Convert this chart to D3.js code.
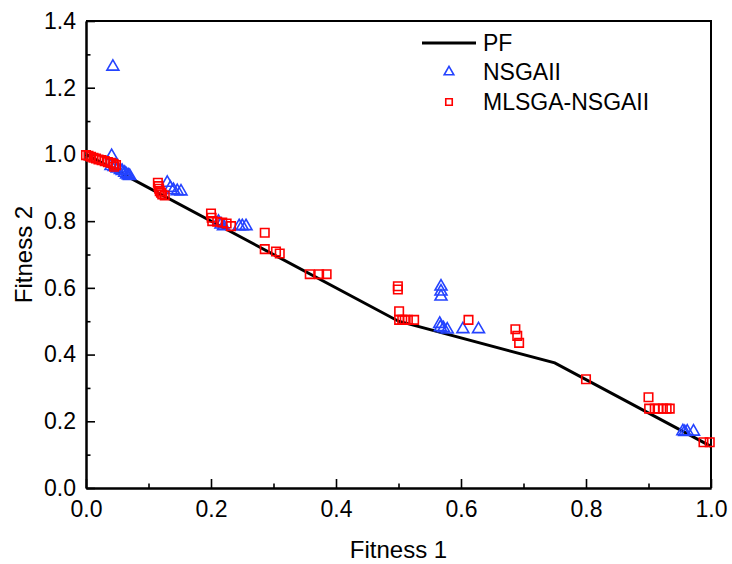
<!DOCTYPE html>
<html>
<head>
<meta charset="utf-8">
<script src="https://cdn.jsdelivr.net/npm/d3@7/dist/d3.min.js"></script>
<style>
  html, body { margin: 0; padding: 0; background: #fff; }
  svg { display: block; }
  text { font-family: "Liberation Sans", Arial, sans-serif; fill: #000; }
</style>
</head>
<body>
<svg id="chart" width="732" height="564"></svg>
<script>
// Pareto front (piecewise linear)
const pfF1 = [0.0, 0.5, 0.75, 1.0];
const pfF2 = [1.0, 0.5, 0.375, 0.125];

// NSGAII solutions
const nsgaF1 = [0.043, 0.041, 0.040, 0.045, 0.050, 0.055, 0.058, 0.062, 0.065, 0.068, 0.070,
                0.130, 0.135, 0.140, 0.146, 0.152,
                0.212, 0.216, 0.220, 0.245, 0.250, 0.256,
                0.568, 0.568, 0.568, 0.566, 0.567, 0.572, 0.578, 0.603, 0.628,
                0.955, 0.958, 0.962, 0.972];
const nsgaF2 = [1.263, 0.995, 0.965, 0.962, 0.958, 0.953, 0.950, 0.945, 0.940, 0.937, 0.935,
                0.915, 0.900, 0.893, 0.890, 0.889,
                0.798, 0.790, 0.785, 0.785, 0.785, 0.785,
                0.604, 0.589, 0.574, 0.492, 0.482, 0.479, 0.475, 0.476, 0.476,
                0.170, 0.168, 0.169, 0.169];

// MLSGA-NSGAII solutions
const mlsgaF1 = [0.000, 0.004, 0.008, 0.012, 0.016, 0.020, 0.025, 0.030, 0.035, 0.040, 0.044, 0.048, 0.045,
                 0.115, 0.116, 0.117, 0.118, 0.120, 0.122, 0.126,
                 0.200, 0.201, 0.202, 0.210, 0.218, 0.225, 0.232,
                 0.286, 0.286, 0.304, 0.310,
                 0.358, 0.373, 0.385,
                 0.499, 0.499, 0.501, 0.501, 0.506, 0.510, 0.515, 0.525,
                 0.612,
                 0.687, 0.690, 0.693,
                 0.800,
                 0.900, 0.901, 0.910, 0.916, 0.923, 0.929, 0.934,
                 0.988, 0.998];
const mlsgaF2 = [0.998, 0.996, 0.993, 0.990, 0.988, 0.985, 0.983, 0.980, 0.977, 0.975, 0.972, 0.968, 0.963,
                 0.915, 0.905, 0.897, 0.890, 0.885, 0.880, 0.877,
                 0.823, 0.810, 0.800, 0.798, 0.796, 0.793, 0.785,
                 0.765, 0.716, 0.709, 0.703,
                 0.641, 0.641, 0.641,
                 0.605, 0.595, 0.530, 0.504, 0.504, 0.504, 0.504, 0.504,
                 0.504,
                 0.476, 0.456, 0.435,
                 0.326,
                 0.272, 0.238, 0.238, 0.238, 0.238, 0.238, 0.238,
                 0.137, 0.137];

const xMajor = [0.0, 0.2, 0.4, 0.6, 0.8, 1.0];
const xMinor = [0.1, 0.3, 0.5, 0.7, 0.9];
const yMajor = [0.0, 0.2, 0.4, 0.6, 0.8, 1.0, 1.2, 1.4];
const yMinor = [0.1, 0.3, 0.5, 0.7, 0.9, 1.1, 1.3];

const seriesNames = ["PF", "NSGAII", "MLSGA-NSGAII"];

const blue = "#2443ff";
const red = "#ff0000";

const svg = d3.select("#chart");
const plotLeft = 86, plotRight = 711, plotTop = 21, plotBottom = 488;

const x = d3.scaleLinear().domain([0, 1]).range([plotLeft, plotRight]);
const y = d3.scaleLinear().domain([0, 1.4]).range([plotBottom, plotTop]);

// Plot frame (top and right edges)
svg.append("path")
  .attr("d", `M${plotLeft},${plotTop}H${plotRight}V${plotBottom}`)
  .attr("fill", "none").attr("stroke", "#000").attr("stroke-width", 2);

// Axes with inward ticks
const fmt = d3.format(".1f");
const gx = svg.append("g").attr("transform", `translate(0,${plotBottom})`)
  .call(d3.axisBottom(x).tickValues(xMajor).tickFormat(fmt).tickSizeInner(-9).tickSizeOuter(0).tickPadding(13));
const gxm = svg.append("g").attr("transform", `translate(0,${plotBottom})`)
  .call(d3.axisBottom(x).tickValues(xMinor).tickFormat("").tickSizeInner(-4.5).tickSizeOuter(0));
const gy = svg.append("g").attr("transform", `translate(${plotLeft},0)`)
  .call(d3.axisLeft(y).tickValues(yMajor).tickFormat(fmt).tickSizeInner(-9).tickSizeOuter(0).tickPadding(10));
const gym = svg.append("g").attr("transform", `translate(${plotLeft},0)`)
  .call(d3.axisLeft(y).tickValues(yMinor).tickFormat("").tickSizeInner(-4.5).tickSizeOuter(0));

[gx, gxm, gy, gym].forEach(g => {
  g.select(".domain").attr("stroke", "#000").attr("stroke-width", 2);
  g.selectAll(".tick line").attr("stroke", "#000").attr("stroke-width", 1.6);
  g.selectAll(".tick text").attr("font-size", 23).attr("font-family", "Liberation Sans, Arial, sans-serif");
});

// Axis titles
svg.append("text").attr("x", (plotLeft + plotRight) / 2).attr("y", 558)
  .attr("text-anchor", "middle").attr("font-size", 24).text("Fitness 1");
svg.append("text").attr("transform", `translate(32,${(plotTop + plotBottom) / 2}) rotate(-90)`)
  .attr("text-anchor", "middle").attr("font-size", 24).text("Fitness 2");

// Pareto front line
const pf = pfF1.map((v, i) => [v, pfF2[i]]);
svg.append("path").datum(pf)
  .attr("d", d3.line().x(d => x(d[0])).y(d => y(d[1])))
  .attr("fill", "none").attr("stroke", "#000").attr("stroke-width", 3);

// Markers
const tri = d3.symbol().type(d3.symbolTriangle).size(62);
const sq = d3.symbol().type(d3.symbolSquare).size(72);

const nsga = nsgaF1.map((v, i) => [v, nsgaF2[i]]);
svg.append("g").selectAll("path").data(nsga).join("path")
  .attr("d", tri)
  .attr("transform", d => `translate(${x(d[0])},${y(d[1])})`)
  .attr("fill", "none").attr("stroke", blue).attr("stroke-width", 1.6);

const mlsga = mlsgaF1.map((v, i) => [v, mlsgaF2[i]]);
svg.append("g").selectAll("path").data(mlsga).join("path")
  .attr("d", sq)
  .attr("transform", d => `translate(${x(d[0])},${y(d[1])})`)
  .attr("fill", "none").attr("stroke", red).attr("stroke-width", 1.6);

// Legend
const lg = svg.append("g");
lg.append("line").attr("x1", 422).attr("x2", 476).attr("y1", 43).attr("y2", 43)
  .attr("stroke", "#000").attr("stroke-width", 3);
lg.append("path").attr("d", d3.symbol().type(d3.symbolTriangle).size(40))
  .attr("transform", "translate(449,72)")
  .attr("fill", "none").attr("stroke", blue).attr("stroke-width", 1.6);
lg.append("path").attr("d", d3.symbol().type(d3.symbolSquare).size(42))
  .attr("transform", "translate(449,102)")
  .attr("fill", "none").attr("stroke", red).attr("stroke-width", 1.6);
[43, 72, 102].forEach((yy, i) => {
  lg.append("text").attr("x", 483).attr("y", yy).attr("dy", "0.36em")
    .attr("font-size", 23).text(seriesNames[i]);
});
</script>
</body>
</html>
